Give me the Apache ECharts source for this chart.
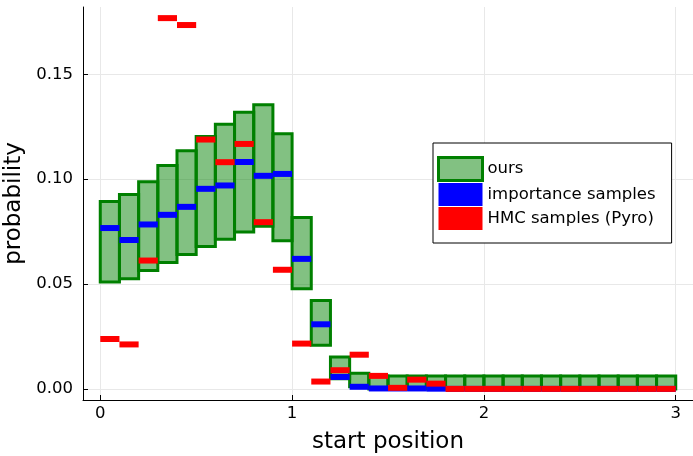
<!DOCTYPE html>
<html><head><meta charset="utf-8">
<script src="https://cdn.jsdelivr.net/npm/echarts@6/dist/echarts.min.js"></script>
<style>html,body{margin:0;padding:0;background:#fff}#c{width:693px;height:456px}</style>
</head><body><div id="c"></div>
<script>
const binStart = [0.0,0.1,0.2,0.3,0.4,0.5,0.6,0.7,0.8,0.9,1.0,1.1,1.2,1.3,1.4,1.5,1.6,1.7,1.8,1.9,2.0,2.1,2.2,2.3,2.4,2.5,2.6,2.7,2.8,2.9];
const binEnd   = [0.1,0.2,0.3,0.4,0.5,0.6,0.7,0.8,0.9,1.0,1.1,1.2,1.3,1.4,1.5,1.6,1.7,1.8,1.9,2.0,2.1,2.2,2.3,2.4,2.5,2.6,2.7,2.8,2.9,3.0];
const oursLow  = [0.0510,0.0525,0.0565,0.0603,0.0641,0.0679,0.0714,0.0748,0.0775,0.0706,0.0478,0.0208,0.0048,0.0010,0.0000,0.0000,0.0000,0.0000,0.0000,0.0000,0.0000,0.0000,0.0000,0.0000,0.0000,0.0000,0.0000,0.0000,0.0000,0.0000];
const oursHigh = [0.0893,0.0927,0.0988,0.1065,0.1135,0.1203,0.1262,0.1319,0.1355,0.1217,0.0817,0.0422,0.0152,0.0074,0.0062,0.0062,0.0062,0.0062,0.0062,0.0062,0.0062,0.0062,0.0062,0.0062,0.0062,0.0062,0.0062,0.0062,0.0062,0.0062];
const importance = [0.0767,0.0710,0.0784,0.0830,0.0868,0.0954,0.0970,0.1082,0.1016,0.1025,0.0620,0.0308,0.0057,0.0010,0.0002,0.0002,0.0002,0.0001,0.0000,0.0000,0.0000,0.0000,0.0000,0.0000,0.0000,0.0000,0.0000,0.0000,0.0000,0.0000];
const hmc = [0.0238,0.0212,0.0612,0.1768,0.1735,0.1189,0.1081,0.1168,0.0795,0.0568,0.0216,0.0035,0.0089,0.0163,0.0062,0.0005,0.0044,0.0025,0.0000,0.0000,0.0000,0.0000,0.0000,0.0000,0.0000,0.0000,0.0000,0.0000,0.0000,0.0000];
const xTicks = [0,1,2,3];
const yTicks = [0,0.05,0.10,0.15];
const seriesNames = ['ours','importance samples','HMC samples (Pyro)'];

const FONT = 'DejaVu Sans';
const GREEN = '#008000', GREEN_FILL = 'rgba(0,128,0,0.49)';

const boxData = binStart.map((s,i)=>[s, binEnd[i], oursLow[i], oursHigh[i]]);
const impData = binStart.map((s,i)=>[s, binEnd[i], importance[i]]);
const hmcData = binStart.map((s,i)=>[s, binEnd[i], hmc[i]]);

function renderBox(params, api){
  const p0 = api.coord([api.value(0), api.value(3)]);
  const p1 = api.coord([api.value(1), api.value(2)]);
  return {type:'rect', shape:{x:p0[0], y:p0[1], width:p1[0]-p0[0], height:p1[1]-p0[1]},
    style:{fill:GREEN_FILL, stroke:GREEN, lineWidth:3}};
}
function segRenderer(color){
  return function(params, api){
    const a = api.coord([api.value(0), api.value(2)]);
    const b = api.coord([api.value(1), api.value(2)]);
    return {type:'line', shape:{x1:a[0], y1:a[1], x2:b[0], y2:b[1]}, style:{stroke:color, lineWidth:6}};
  };
}

const axisCommon = {
  axisLine:{show:true, onZero:false, lineStyle:{color:'#000', width:1}},
  axisTick:{show:true, inside:true, length:5, lineStyle:{color:'#000'}},
  splitLine:{show:true, lineStyle:{color:'#e8e8e8', width:1}},
  nameLocation:'middle',
  nameTextStyle:{fontFamily:FONT, fontSize:23, color:'#000'}
};

const chart = echarts.init(document.getElementById('c'), null, {renderer:'canvas'});
chart.setOption({
  animation:false,
  backgroundColor:'#fff',
  grid:{left:83, right:0, top:7, bottom:56, containLabel:false, outerBoundsMode:'none'},
  xAxis: Object.assign({}, axisCommon, {
    type:'value', min:-0.09, max:3.09,
    name:'start position', nameGap:31,
    axisTick:Object.assign({}, axisCommon.axisTick, {customValues:xTicks}),
    axisLabel:{customValues:xTicks, fontFamily:FONT, fontSize:16.5, color:'#000', margin:5, formatter:v=>String(v)}
  }),
  yAxis: Object.assign({}, axisCommon, {
    type:'value', min:-0.0053, max:0.1821,
    name:'probability', nameGap:45,
    axisTick:Object.assign({}, axisCommon.axisTick, {customValues:yTicks}),
    axisLabel:{customValues:yTicks, fontFamily:FONT, fontSize:16.5, color:'#000', margin:10, formatter:v=>v.toFixed(2)}
  }),
  legend:{
    orient:'vertical', left:433, top:143,
    backgroundColor:'#fff', borderColor:'#000', borderWidth:1, borderRadius:0,
    padding:[13,16,13,4], itemGap:1, itemWidth:44, itemHeight:23,
    textStyle:{fontFamily:FONT, fontSize:16.5, color:'#000'},
    data:[
      {name:seriesNames[0], icon:'rect', itemStyle:{color:GREEN_FILL, borderColor:GREEN, borderWidth:3}},
      {name:seriesNames[1], icon:'rect', itemStyle:{color:'#0000ff'}},
      {name:seriesNames[2], icon:'rect', itemStyle:{color:'#ff0000'}}
    ]
  },
  series:[
    {type:'custom', name:seriesNames[0], renderItem:renderBox, data:boxData, encode:{x:[0,1], y:[2,3]}, itemStyle:{color:GREEN_FILL}},
    {type:'custom', name:seriesNames[1], renderItem:segRenderer('#0000ff'), data:impData, encode:{x:[0,1], y:2}, itemStyle:{color:'#0000ff'}},
    {type:'custom', name:seriesNames[2], renderItem:segRenderer('#ff0000'), data:hmcData, encode:{x:[0,1], y:2}, itemStyle:{color:'#ff0000'}}
  ]
});
</script>
</body></html>
